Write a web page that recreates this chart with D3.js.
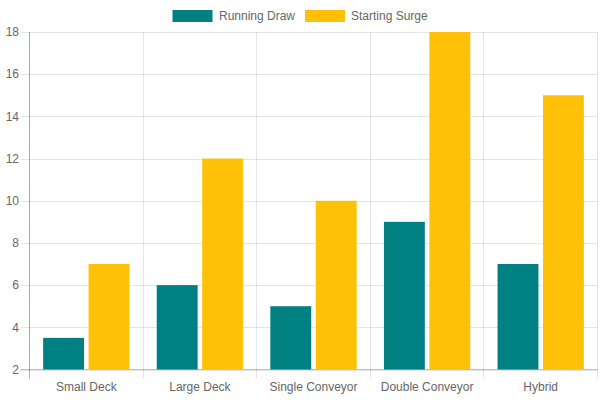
<!DOCTYPE html>
<html>
<head>
<meta charset="utf-8">
<script src="https://cdn.jsdelivr.net/npm/d3@7"></script>
<style>
  html, body { margin: 0; padding: 0; background: #fff; }
  svg { display: block; font-family: "Liberation Sans", Arial, Helvetica, sans-serif; }
</style>
</head>
<body>
<svg id="chart" width="600" height="400"></svg>
<script>
const categories = ["Small Deck", "Large Deck", "Single Conveyor", "Double Conveyor", "Hybrid"];
const seriesNames = ["Running Draw", "Starting Surge"];
const runningDraw = [3.5, 6, 5, 9, 7];
const startingSurge = [7, 12, 10, 18, 15];
const yTicks = [2, 4, 6, 8, 10, 12, 14, 16, 18];
const colors = ["#008080", "#FFC107"];

(function () {
const series = [runningDraw, startingSurge];
const svg = d3.select("#chart");
const mLeft = 29.5, mRight = 597.5, mTop = 32, mBottom = 369.5;

const x = d3.scaleBand().domain(categories).range([mLeft, mRight]).paddingInner(0).paddingOuter(0);
const y = d3.scaleLinear().domain([2, 18]).range([mBottom, mTop]);

// Chart.js-like geometry: categoryPercentage 0.8, barPercentage 0.9
const groupW = x.bandwidth() * 0.8;
const slotW = groupW / series.length;
const barW = slotW * 0.9;
const slot = d3.scaleBand().domain(d3.range(series.length)).range([0, groupW]);

const grid = svg.append("g");
grid.selectAll("line.h").data(yTicks).join("line")
  .attr("x1", mLeft - 9).attr("x2", mRight)
  .attr("y1", d => Math.round(y(d)) + 0.5).attr("y2", d => Math.round(y(d)) + 0.5)
  .attr("stroke", "rgba(0,0,0,0.1)").attr("stroke-width", 1);
const bounds = categories.map(c => x(c)).concat([mRight]);
grid.selectAll("line.v").data(bounds).join("line")
  .attr("x1", d => Math.floor(d) + 0.5).attr("x2", d => Math.floor(d) + 0.5)
  .attr("y1", mTop).attr("y2", mBottom + 9)
  .attr("stroke", "rgba(0,0,0,0.1)").attr("stroke-width", 1);

svg.append("line").attr("x1", mLeft).attr("x2", mLeft).attr("y1", mTop).attr("y2", mBottom + 9)
  .attr("stroke", "rgba(0,0,0,0.25)");
svg.append("line").attr("x1", mLeft - 9).attr("x2", mRight).attr("y1", mBottom).attr("y2", mBottom)
  .attr("stroke", "rgba(0,0,0,0.25)");

series.forEach((vals, si) => {
  svg.append("g").selectAll("rect").data(vals).join("rect")
    .attr("x", (d, i) => x(categories[i]) + (x.bandwidth() - groupW) / 2 + slot(si) + (slotW - barW) / 2)
    .attr("width", barW)
    .attr("y", d => y(d))
    .attr("height", d => y(2) - y(d))
    .attr("fill", colors[si]);
});

svg.append("g").selectAll("text").data(yTicks).join("text")
  .attr("x", 19).attr("y", d => y(d)).attr("dy", "0.35em")
  .attr("text-anchor", "end").attr("font-size", 12).attr("fill", "#666")
  .text(d => d);

svg.append("g").selectAll("text").data(categories).join("text")
  .attr("x", d => x(d) + x.bandwidth() / 2).attr("y", 387).attr("dy", "0.35em")
  .attr("text-anchor", "middle").attr("font-size", 12).attr("fill", "#666")
  .text(d => d);

const legendItems = [
  { name: seriesNames[0], color: colors[0], bx: 172.5, tx: 219 },
  { name: seriesNames[1], color: colors[1], bx: 305, tx: 351 }
];
const lg = svg.append("g");
legendItems.forEach(it => {
  lg.append("rect").attr("x", it.bx).attr("y", 10).attr("width", 40).attr("height", 12).attr("fill", it.color);
  lg.append("text").attr("x", it.tx).attr("y", 16).attr("dy", "0.35em")
    .attr("font-size", 12).attr("fill", "#666").text(it.name);
});
})();
</script>
</body>
</html>
